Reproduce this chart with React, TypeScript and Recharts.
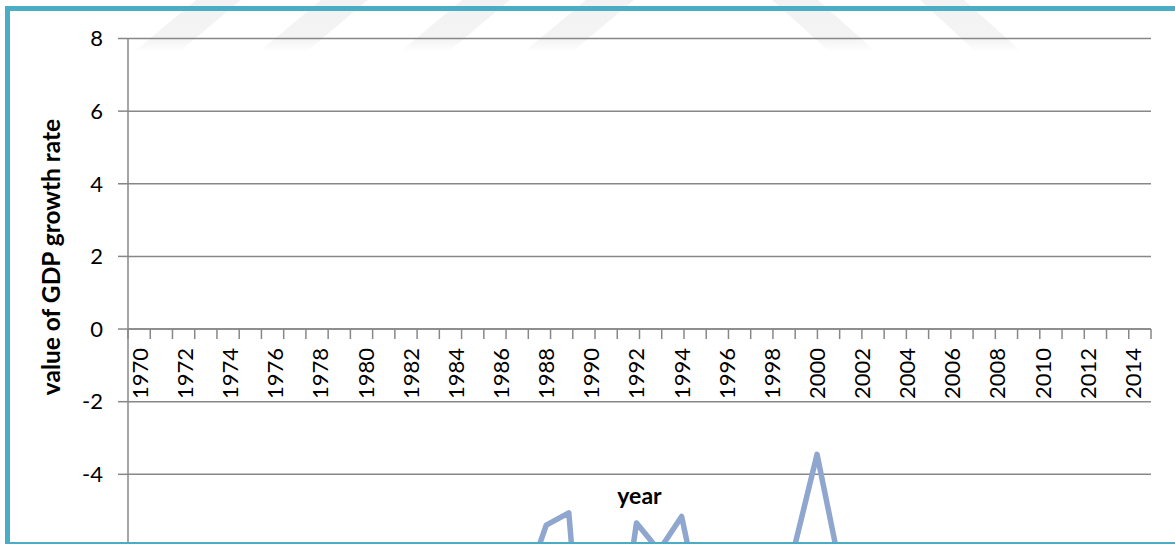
import React from 'react';
import { LineChart, Line, XAxis, YAxis, CartesianGrid, ReferenceLine } from 'recharts';

// Categories: one per year
const years = [
  '1970', '1971', '1972', '1973', '1974', '1975', '1976', '1977', '1978', '1979',
  '1980', '1981', '1982', '1983', '1984', '1985', '1986', '1987', '1988', '1989',
  '1990', '1991', '1992', '1993', '1994', '1995', '1996', '1997', '1998', '1999',
  '2000', '2001', '2002', '2003', '2004', '2005', '2006', '2007', '2008', '2009',
  '2010', '2011', '2012', '2013', '2014',
];

// Series values: value of GDP growth rate per year
const growthValues = [
  -9.8, -8.6, -11.2, -10.4, -12.1, -9.3, -8.2, -10.7, -11.5, -13.0,
  -12.6, -9.9, -8.8, -10.2, -9.1, -8.4, -7.9, -7.2, -5.4, -5.06,
  -12.4, -9.6, -5.34, -6.1, -5.16, -8.1, -9.0, -8.6, -10.2, -6.0,
  -3.45, -6.5, -8.9, -9.7, -10.8, -9.2, -8.5, -9.4, -11.0, -12.8,
  -9.6, -8.7, -9.9, -10.3, -9.5,
];

// Tick labels
const yTicks = [-4, -2, 0, 2, 4, 6, 8];
const labelYears = [
  '1970', '1972', '1974', '1976', '1978', '1980', '1982', '1984', '1986', '1988',
  '1990', '1992', '1994', '1996', '1998', '2000', '2002', '2004', '2006', '2008',
  '2010', '2012', '2014',
];
// number of intervals between the small tick marks on the zero axis
const markIntervals = 46;

const data = years.map((year, i) => ({ year, value: growthValues[i] }));

// layout
const WIDTH = 1175;
const VIEW_H = 544;
const PLOT_TOP = 38.5;
const PLOT_H = 799;
const XAXIS_H = 20;
const MARGIN_BOTTOM = 10;
const CHART_H = PLOT_TOP + PLOT_H + XAXIS_H + MARGIN_BOTTOM;
const Y_MIN = -14;
const Y_MAX = 8;
const ZERO_Y = PLOT_TOP + (PLOT_H * (Y_MAX - 0)) / (Y_MAX - Y_MIN);

const FONT = "Lato, 'Carlito', 'Open Sans', sans-serif";
const GRID = '#878787';
const LINE = '#8FA6CF';
const FRAME = '#4BACC6';

// year labels hang below the zero line, rotated to read bottom-to-top
const YearTick = (props: any) => {
  const { x, payload } = props;
  const top = ZERO_Y + 19;
  return (
    <text
      x={x}
      y={top}
      transform={`rotate(-90 ${x} ${top})`}
      textAnchor="end"
      dy="0.36em"
      fontFamily={FONT}
      fontSize={22}
      fill="#000"
    >
      {payload.value}
    </text>
  );
};

// small tick marks under the zero line plus the "year" title
const ZeroAxisDecor = (props: any) => {
  const vb = props.viewBox;
  if (!vb) return null;
  const step = vb.width / markIntervals;
  const marks = [];
  for (let i = 0; i <= markIntervals; i++) {
    const mx = vb.x + i * step;
    marks.push(
      <line key={i} x1={mx} x2={mx} y1={vb.y} y2={vb.y + 10} stroke={GRID} strokeWidth={1.5} />
    );
  }
  return (
    <g>
      {marks}
      <text
        x={vb.x + vb.width / 2}
        y={vb.y + 175}
        textAnchor="middle"
        fontFamily={FONT}
        fontWeight={700}
        fontSize={23}
        fill="#000"
      >
        year
      </text>
    </g>
  );
};

const YTitle = (props: any) => {
  const vb = props.viewBox || { x: 0 };
  const cx = vb.x + 50;
  const cy = 257;
  return (
    <text
      x={cx}
      y={cy}
      transform={`rotate(-90 ${cx} ${cy})`}
      textAnchor="middle"
      dominantBaseline="central"
      fontFamily={FONT}
      fontWeight={700}
      fontSize={24.5}
      fill="#000"
    >
      value of GDP growth rate
    </text>
  );
};

const Watermark = () => (
  <svg width={WIDTH} height={60} style={{ position: 'absolute', left: 0, top: 0 }}>
    <defs>
      <linearGradient id="wmFade" x1="0" y1="0" x2="0" y2="1">
        <stop offset="0%" stopColor="#f2f2f2" />
        <stop offset="75%" stopColor="#f4f4f4" />
        <stop offset="100%" stopColor="#ffffff" />
      </linearGradient>
    </defs>
    <g fill="url(#wmFade)">
      <polygon points="196,0 241,0 179,52 134,52" />
      <polygon points="321,0 368,0 306,52 259,52" />
      <polygon points="462,0 510,0 448,52 400,52" />
      <polygon points="586,0 634,0 572,52 524,52" />
      <polygon points="772,0 818,0 876,52 830,52" />
      <polygon points="920,0 964,0 1022,52 976,52" />
    </g>
  </svg>
);

export default function App() {
  return (
    <div
      style={{
        position: 'absolute',
        left: 0,
        top: 0,
        width: WIDTH,
        height: VIEW_H,
        overflow: 'hidden',
        background: '#fff',
      }}
    >
      <Watermark />
      <div style={{ position: 'absolute', left: 0, top: 0 }}>
        <LineChart
          width={WIDTH}
          height={CHART_H}
          data={data}
          margin={{ top: PLOT_TOP, right: 24, bottom: MARGIN_BOTTOM, left: 0 }}
        >
          <CartesianGrid vertical={false} stroke={GRID} strokeWidth={1.5} />
          <XAxis
            dataKey="year"
            scale="point"
            padding={{ left: 12, right: 18 }}
            ticks={labelYears}
            interval={0}
            height={XAXIS_H}
            axisLine={false}
            tickLine={false}
            tick={YearTick}
          />
          <YAxis
            width={128}
            domain={[Y_MIN, Y_MAX]}
            ticks={yTicks}
            interval={0}
            allowDataOverflow
            axisLine={{ stroke: GRID, strokeWidth: 1.5 }}
            tickLine={{ stroke: GRID, strokeWidth: 1.5 }}
            tickSize={10}
            tickMargin={15}
            tick={{ fill: '#000', fontSize: 22, fontFamily: FONT }}
            label={<YTitle />}
          />
          <ReferenceLine
            y={0}
            stroke={GRID}
            strokeWidth={1.5}
            label={<ZeroAxisDecor />}
          />
          <Line
            type="linear"
            dataKey="value"
            stroke={LINE}
            strokeWidth={5.5}
            strokeLinejoin="round"
            strokeLinecap="round"
            dot={false}
            activeDot={false}
            isAnimationActive={false}
          />
        </LineChart>
      </div>
      <div
        style={{
          position: 'absolute',
          left: 5,
          top: 6,
          width: 1400,
          height: 541,
          border: `5px solid ${FRAME}`,
          boxSizing: 'border-box',
          pointerEvents: 'none',
        }}
      />
    </div>
  );
}
